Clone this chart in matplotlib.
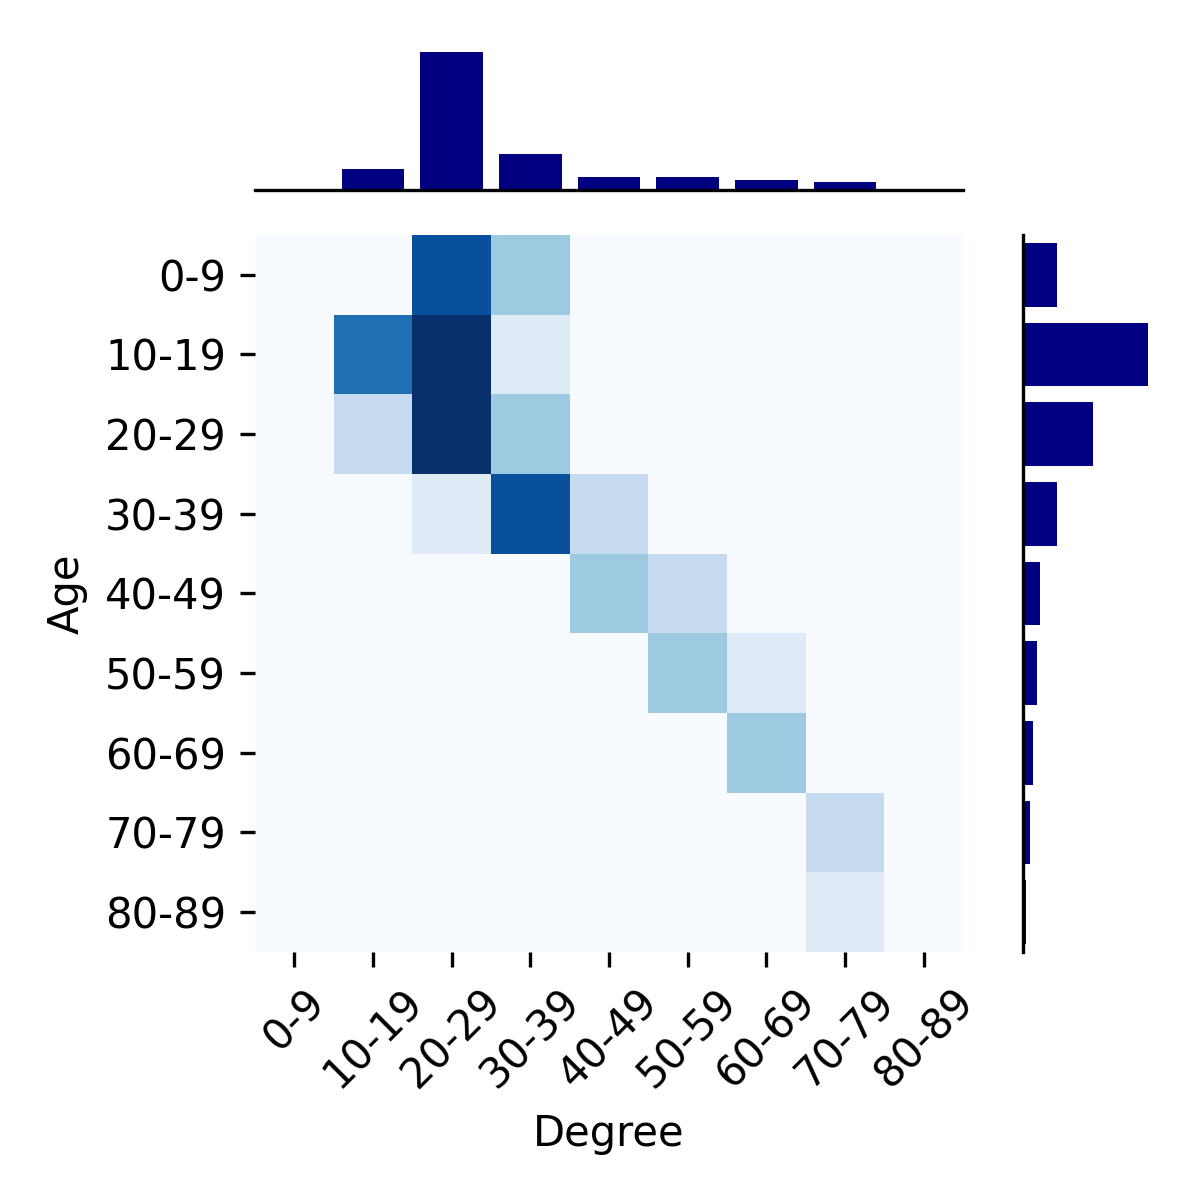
import numpy as np
import matplotlib
matplotlib.use('Agg')
import matplotlib.pyplot as plt

bins = ['0-9', '10-19', '20-29', '30-39', '40-49', '50-59', '60-69', '70-79', '80-89']

# counts: rows = Age bins, columns = Degree bins
counts = np.array([
    [0, 0, 21, 9, 0, 0, 0, 0, 0],
    [0, 18, 89, 3, 0, 0, 0, 0, 0],
    [0, 6, 47, 9, 0, 0, 0, 0, 0],
    [0, 0, 3, 21, 6, 0, 0, 0, 0],
    [0, 0, 0, 0, 9, 6, 0, 0, 0],
    [0, 0, 0, 0, 0, 9, 3, 0, 0],
    [0, 0, 0, 0, 0, 0, 9, 0, 0],
    [0, 0, 0, 0, 0, 0, 0, 6, 0],
    [0, 0, 0, 0, 0, 0, 0, 3, 0],
])

degree_totals = counts.sum(axis=0)
age_totals = counts.sum(axis=1)

fig = plt.figure(figsize=(4, 4), dpi=300)
ax_heat = fig.add_axes([0.2125, 0.2067, 0.59, 0.5975])
ax_top = fig.add_axes([0.2125, 0.8417, 0.59, 0.121])
ax_right = fig.add_axes([0.8525, 0.2067, 0.109, 0.5975])

pos = np.arange(len(bins)) + 0.5

# heatmap
ax_heat.pcolormesh(np.arange(10), np.arange(10), counts, cmap='Blues', vmin=0, vmax=24)
ax_heat.set_xlim(0, 9)
ax_heat.set_ylim(9, 0)
ax_heat.set_xticks(pos)
ax_heat.set_xticklabels(bins, rotation=45, fontsize=10)
ax_heat.set_yticks(pos)
ax_heat.set_yticklabels(bins, fontsize=10)
ax_heat.set_xlabel('Degree', fontsize=10)
ax_heat.set_ylabel('Age', fontsize=10)
for s in ax_heat.spines.values():
    s.set_visible(False)

# marginal: degree
ax_top.bar(pos, degree_totals, width=0.8, color='navy')
ax_top.set_xlim(0, 9)
ax_top.set_xticks([])
ax_top.set_yticks([])
for s in ['top', 'left', 'right']:
    ax_top.spines[s].set_visible(False)

# marginal: age
ax_right.barh(pos, age_totals, height=0.8, color='navy')
ax_right.set_ylim(9, 0)
ax_right.set_xticks([])
ax_right.set_yticks([])
for s in ['top', 'bottom', 'right']:
    ax_right.spines[s].set_visible(False)

plt.savefig('out.png', dpi=300)
